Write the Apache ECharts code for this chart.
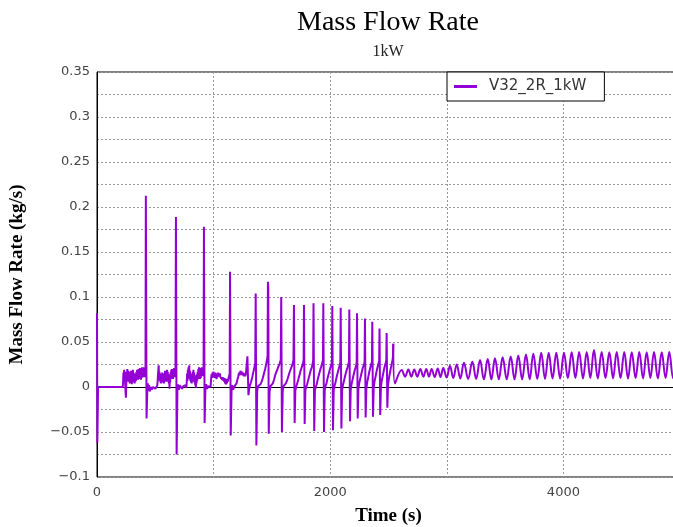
<!DOCTYPE html>
<html>
<head>
<meta charset="utf-8">
<title>Mass Flow Rate</title>
<script src="https://cdn.jsdelivr.net/npm/echarts@6/dist/echarts.min.js"></script>
<style>
  html, body { margin: 0; padding: 0; background: #fff; }
  #chart { width: 673px; height: 527px; }
</style>
</head>
<body>
<div id="chart"></div>
<script>
// values as [time (s), mass flow (kg/s)]
const startup = [
  [0, 0.082], [3, -0.062], [9, 0], [60, 0], [120, 0], [180, 0], [221, 0]
];
const plateau1 = [
  [224, 0.006], [227, 0.016], [230, 0.009], [233, 0.019], [236, 0.007], [239, 0.017], [242, 0.002],
  [245, -0.006], [248, -0.012], [251, 0.003], [254, 0.017], [257, 0.008], [260, 0.02], [263, 0.009],
  [266, 0.018], [269, 0.006], [272, 0.017], [275, 0.007], [278, 0.015], [281, 0.004], [284, 0.016],
  [287, 0.008], [290, 0.018], [293, 0.006], [296, 0.014], [299, 0.003], [302, 0.015], [305, 0.007],
  [308, 0.019], [311, 0.009], [314, 0.016], [317, 0.005], [320, 0.013], [323, 0.004], [326, 0.012],
  [329, 0.006], [332, 0.015], [335, 0.007], [338, 0.017], [341, 0.009], [344, 0.019], [347, 0.01],
  [350, 0.018], [353, 0.008], [356, 0.02], [359, 0.011], [362, 0.019], [365, 0.009], [368, 0.021],
  [371, 0.012], [374, 0.019], [377, 0.008], [380, 0.02], [383, 0.01], [386, 0.022], [389, 0.012],
  [392, 0.02], [395, 0.011], [398, 0.022], [401, 0.013], [404, 0.02], [407, 0.011], [410, 0.021],
  [413, 0.014], [416, 0.02]
];
const spike1 = [
  [419, 0.2126], [425, -0.035], [432, 0], [436, 0.004], [440, -0.004], [446, 0.002], [452, -0.005],
  [460, 0], [470, -0.003], [480, 0], [490, 0.001], [500, -0.002], [510, 0], [517, 0.002]
];
const plateau2 = [
  [520, 0.006], [523, 0.014], [526, 0.019], [529, 0.024], [532, 0.01], [535, 0.017], [538, 0.007],
  [541, 0.015], [544, 0.005], [547, 0.013], [550, 0.004], [553, 0.012], [556, 0.006], [559, 0.016],
  [562, 0.008], [565, 0.015], [568, 0.005], [571, 0.014], [574, 0.004], [577, 0.015], [580, 0.008],
  [583, 0.018], [586, 0.007], [589, 0.016], [592, 0.006], [595, 0.017], [598, 0.01], [601, 0.019],
  [604, 0.008], [607, 0.017], [610, 0.006], [613, 0.014], [616, 0.004], [619, 0.01], [622, -0.002],
  [625, 0.011], [628, 0.005], [631, 0.016], [634, 0.009], [637, 0.019], [640, 0.01], [643, 0.02],
  [646, 0.011], [649, 0.018], [652, 0.009], [655, 0.02], [658, 0.012], [661, 0.021], [664, 0.011],
  [667, 0.02], [670, 0.013], [673, 0.019]
];
const spike2 = [
  [677, 0.189], [683, -0.075], [690, 0], [696, 0.003], [702, -0.003], [710, 0.002], [720, 0],
  [730, -0.002], [740, 0.001], [750, 0], [760, 0.002], [766, -0.001]
];
const plateau3 = [
  [770, 0.006], [773, 0.015], [776, 0.007], [779, 0.019], [782, 0.009], [785, 0.022], [788, 0.012],
  [791, 0.024], [794, 0.011], [797, 0.018], [800, 0.007], [803, 0.015], [806, 0.005], [809, 0.013],
  [812, 0.004], [815, 0.012], [818, 0.006], [821, 0.017], [824, 0.009], [827, 0.019], [830, 0.008],
  [833, 0.016], [836, 0.005], [839, 0.013], [842, 0.002], [845, 0.011], [848, -0.001], [851, 0.009],
  [854, 0.004], [857, 0.014], [860, 0.007], [863, 0.017], [866, 0.009], [869, 0.02], [872, 0.011],
  [875, 0.022], [878, 0.012], [881, 0.02], [884, 0.009], [887, 0.018], [890, 0.01], [893, 0.021],
  [896, 0.012], [899, 0.022], [902, 0.013], [905, 0.02], [908, 0.012], [911, 0.019], [914, 0.015]
];
const spike3 = [
  [917, 0.178], [923, -0.04], [930, 0], [936, 0.003], [944, -0.002], [952, 0.001], [960, 0],
  [968, 0.002], [974, 0]
];
const plateau4 = [
  [978, 0.008], [982, 0.014], [986, 0.01], [990, 0.016], [994, 0.011], [998, 0.017], [1002, 0.012],
  [1006, 0.015], [1010, 0.01], [1014, 0.016], [1018, 0.012], [1022, 0.014], [1026, 0.009], [1030, 0.015],
  [1034, 0.011], [1038, 0.016], [1042, 0.012], [1046, 0.014], [1050, 0.01], [1054, 0.015], [1058, 0.011],
  [1062, 0.013], [1066, 0.009], [1070, 0.012], [1074, 0.008], [1078, 0.011], [1082, 0.007], [1086, 0.01],
  [1090, 0.006], [1094, 0.01], [1098, 0.004], [1102, 0.009], [1106, 0.003], [1110, 0.008], [1114, 0.004],
  [1118, 0.009], [1122, 0.006], [1128, 0.01], [1134, 0.012], [1138, 0.015]
];
const spike4 = [
  [1141, 0.128], [1147, -0.054], [1154, -0.004], [1160, 0.002], [1168, -0.003], [1176, 0], [1184, 0.002],
  [1190, 0], [1196, 0.004], [1204, 0.008], [1212, 0.012], [1218, 0.016], [1224, 0.013], [1230, 0.018],
  [1236, 0.014], [1242, 0.017], [1248, 0.013], [1254, 0.016], [1260, 0.012], [1266, 0.015], [1272, 0.012],
  [1278, 0.016], [1284, 0.018], [1290, 0.034], [1295, 0.01], [1299, -0.009], [1305, -0.002], [1312, 0.002],
  [1320, 0.005], [1330, 0.01], [1340, 0.016], [1350, 0.022], [1357, 0.026]
];
// spike train: top, bottom, recovery and ramp for each pulse
const spikeTrain = [
  [1361, 0.104], [1367, -0.065], [1374, -0.004], [1382, 0.001], [1392, 0], [1402, 0.003], [1412, 0.006],
  [1422, 0.01], [1432, 0.015], [1442, 0.02], [1452, 0.026], [1460, 0.032], [1463, 0.035],
  [1466, 0.117], [1469, 0.11], [1473, -0.052], [1480, -0.005], [1488, 0.001], [1498, 0], [1508, 0.004],
  [1518, 0.008], [1530, 0.014], [1542, 0.018], [1554, 0.022], [1566, 0.026], [1576, 0.03],
  [1580, 0.1], [1586, -0.05], [1593, -0.004], [1600, 0.001], [1610, 0], [1620, 0.004], [1632, 0.008],
  [1644, 0.013], [1656, 0.018], [1668, 0.022], [1678, 0.026], [1685, 0.03],
  [1689, 0.091], [1695, -0.04], [1701, -0.004], [1708, 0], [1716, 0.002], [1726, 0.008], [1736, 0.013],
  [1746, 0.018], [1756, 0.022], [1766, 0.026], [1772, 0.03],
  [1775, 0.091], [1781, -0.041], [1787, -0.004], [1794, 0], [1802, 0.003], [1812, 0.008], [1822, 0.013],
  [1832, 0.018], [1842, 0.022], [1850, 0.026], [1854, 0.03],
  [1857, 0.093], [1863, -0.049], [1869, -0.004], [1876, 0], [1884, 0.003], [1894, 0.009], [1904, 0.014],
  [1914, 0.019], [1924, 0.023], [1932, 0.027], [1938, 0.03],
  [1941, 0.093], [1947, -0.05], [1953, -0.004], [1960, 0.001], [1968, 0.004], [1978, 0.01], [1988, 0.015],
  [1998, 0.02], [2008, 0.024], [2015, 0.028],
  [2018, 0.09], [2024, -0.048], [2030, -0.004], [2037, 0.001], [2045, 0.005], [2055, 0.011], [2065, 0.016],
  [2075, 0.021], [2083, 0.025], [2087, 0.028],
  [2090, 0.088], [2096, -0.046], [2102, -0.004], [2109, 0.002], [2117, 0.006], [2127, 0.012], [2137, 0.017],
  [2147, 0.021], [2155, 0.025], [2161, 0.028],
  [2164, 0.086], [2170, -0.038], [2176, -0.003], [2183, 0.003], [2191, 0.008], [2200, 0.013], [2209, 0.018],
  [2218, 0.022], [2224, 0.025], [2227, 0.028],
  [2230, 0.082], [2236, -0.035], [2242, -0.002], [2249, 0.004], [2257, 0.009], [2266, 0.014], [2275, 0.019],
  [2284, 0.023], [2292, 0.026], [2295, 0.029],
  [2298, 0.076], [2304, -0.034], [2310, -0.002], [2317, 0.005], [2325, 0.01], [2334, 0.016], [2343, 0.021],
  [2351, 0.025], [2358, 0.028],
  [2361, 0.0725], [2367, -0.033], [2373, -0.001], [2380, 0.006], [2388, 0.011], [2397, 0.017], [2406, 0.022],
  [2414, 0.026], [2420, 0.029],
  [2423, 0.065], [2429, -0.031], [2435, 0], [2442, 0.007], [2450, 0.012], [2459, 0.018], [2468, 0.023],
  [2476, 0.027], [2481, 0.03],
  [2484, 0.06], [2490, -0.023], [2496, 0.002], [2503, 0.009], [2511, 0.015], [2520, 0.021], [2528, 0.026],
  [2535, 0.03], [2538, 0.034],
  [2541, 0.048]
];
// settled oscillation: alternating peaks and troughs
const settled = [
  [2541, 0.048], [2555, 0.004], [2613, 0.019], [2642, 0.0115], [2670, 0.0195], [2696, 0.0115],
  [2721, 0.0195], [2747, 0.0115], [2773, 0.02], [2799, 0.0115], [2824, 0.02], [2847, 0.0115],
  [2870, 0.02], [2896, 0.011], [2922, 0.0205], [2946, 0.011], [2970, 0.021], [2999, 0.0105],
  [3027, 0.0235], [3056, 0.01], [3085, 0.025], [3116, 0.0095], [3147, 0.027], [3183, 0.009],
  [3219, 0.028], [3252, 0.009], [3285, 0.03], [3318, 0.0085], [3351, 0.031], [3382, 0.0085],
  [3413, 0.032], [3446, 0.0085], [3479, 0.033], [3514, 0.0085], [3548, 0.034], [3581, 0.0085],
  [3613, 0.035], [3646, 0.0085], [3679, 0.036], [3711, 0.0085], [3742, 0.037], [3776, 0.009],
  [3810, 0.038], [3842, 0.009], [3874, 0.038], [3907, 0.0095], [3939, 0.038], [3972, 0.0095],
  [4005, 0.038], [4038, 0.01], [4071, 0.0385], [4103, 0.01], [4135, 0.039], [4168, 0.0095],
  [4200, 0.039], [4231, 0.01], [4262, 0.041], [4295, 0.0095], [4328, 0.039], [4361, 0.01],
  [4394, 0.0385], [4426, 0.0095], [4457, 0.039], [4490, 0.01], [4522, 0.039], [4554, 0.0095],
  [4586, 0.0385], [4619, 0.01], [4651, 0.039], [4683, 0.0095], [4714, 0.0385], [4746, 0.01],
  [4777, 0.039], [4810, 0.0095], [4843, 0.0385], [4876, 0.01], [4908, 0.039], [4941, 0.0095],
  [4975, 0.035]
];

const seriesName = "V32_2R_1kW";
const lineColor = "#9400d3";
const serifFont = "Liberation Serif";
const tickFont = "DejaVu Sans";

const transient = [].concat(startup, plateau1, spike1, plateau2, spike2, plateau3,
  spike3, plateau4, spike4, spikeTrain);

const chart = echarts.init(document.getElementById("chart"));

const option = {
  animation: false,
  title: {
    text: "Mass Flow Rate",
    subtext: "1kW",
    left: 383,
    textAlign: "center",
    top: 4,
    itemGap: 7,
    textStyle: { fontFamily: serifFont, fontSize: 28, fontWeight: "normal", color: "#000" },
    subtextStyle: { fontFamily: serifFont, fontSize: 16, color: "#222" },
  },
  legend: {
    left: 447,
    top: 72,
    icon: "rect",
    itemWidth: 23,
    itemHeight: 3,
    padding: [7, 18, 7, 7],
    backgroundColor: "#fff",
    borderColor: "#000",
    borderWidth: 1,
    borderRadius: 0,
    textStyle: { fontFamily: tickFont, fontSize: 15, color: "#333", padding: [0, 0, 0, 7] },
    data: [seriesName],
  },
  grid: {
    left: 97,
    top: 72,
    width: 583,
    height: 405,
    outerBoundsMode: "none",
    containLabel: false,
    show: true,
    borderColor: "#000",
    borderWidth: 1,
  },
  xAxis: {
    type: "value",
    min: 0,
    max: 5000,
    interval: 1000,
    name: "Time (s)",
    nameLocation: "middle",
    nameGap: 30,
    nameTextStyle: { fontFamily: serifFont, fontSize: 19, fontWeight: "bold", color: "#000" },
    axisLine: { show: true, lineStyle: { color: "#000", width: 1 } },
    axisTick: { show: false },
    axisLabel: {
      fontFamily: tickFont,
      fontSize: 13,
      color: "#444",
      margin: 9,
      formatter: (v) => (v % 2000 === 0 ? String(v) : ""),
    },
    splitLine: { show: true, lineStyle: { color: "#999", type: [2, 2], width: 1 } },
  },
  yAxis: {
    type: "value",
    min: -0.1,
    max: 0.35,
    interval: 0.025,
    name: "Mass Flow Rate (kg/s)",
    nameLocation: "middle",
    nameGap: 70,
    nameTextStyle: { fontFamily: serifFont, fontSize: 19, fontWeight: "bold", color: "#000" },
    axisLine: { show: true, lineStyle: { color: "#000", width: 1 } },
    axisTick: { show: false },
    axisLabel: {
      fontFamily: tickFont,
      fontSize: 13,
      color: "#444",
      margin: 7,
      formatter: (v) => {
        const k = Math.round(v * 1000);
        if (k % 50 !== 0) return "";
        return String(k / 1000).replace("-", "\u2212");
      },
    },
    splitLine: { show: true, lineStyle: { color: "#999", type: [2, 2], width: 1 } },
  },
  series: [
    {
      name: seriesName,
      type: "line",
      symbol: "none",
      data: transient,
      lineStyle: { color: lineColor, width: 2 },
      itemStyle: { color: lineColor },
    },
    {
      name: seriesName,
      type: "line",
      symbol: "none",
      smooth: 0.4,
      data: settled,
      lineStyle: { color: lineColor, width: 2 },
      itemStyle: { color: lineColor },
    },
  ],
};

chart.setOption(option);
</script>
</body>
</html>
